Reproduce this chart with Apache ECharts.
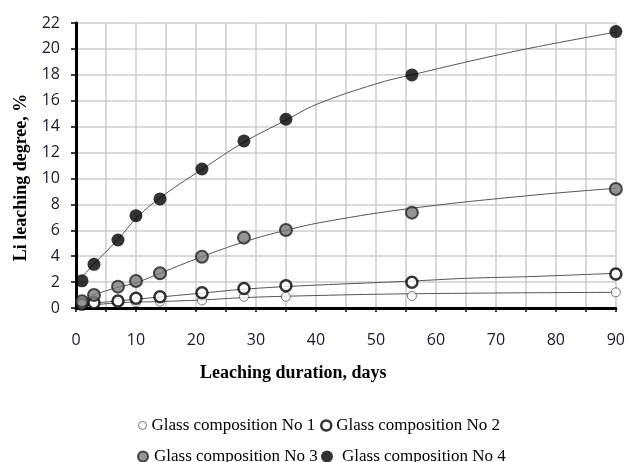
<!DOCTYPE html>
<html>
<head>
<meta charset="utf-8">
<script src="https://cdn.jsdelivr.net/npm/echarts@6/dist/echarts.min.js"></script>
<style>html,body{margin:0;padding:0;background:#fff}#c{width:628px;height:462px}</style>
</head>
<body>
<div id="c"></div>
<script>
// measured points
var days = [1, 3, 7, 10, 14, 21, 28, 35, 56, 90];
var glass1 = [0.23, 0.3, 0.4, 0.45, 0.49, 0.58, 0.87, 0.87, 0.93, 1.21];
var glass2 = [0.3, 0.4, 0.54, 0.75, 0.87, 1.18, 1.5, 1.72, 1.98, 2.63];
var glass3 = [0.52, 1.0, 1.65, 2.08, 2.68, 3.96, 5.43, 6.02, 7.36, 9.19];
var glass4 = [2.1, 3.37, 5.25, 7.13, 8.42, 10.73, 12.9, 14.57, 17.99, 21.34];
// trend lines
var trend1Days = [1, 7, 14, 21, 28, 37, 56, 90];
var trend1 = [0.15, 0.4, 0.5, 0.62, 0.8, 0.93, 1.1, 1.21];
var trend2Days = [1, 7, 14, 21, 28, 37, 56, 65, 76, 90];
var trend2 = [0.3, 0.55, 0.85, 1.15, 1.45, 1.7, 2.08, 2.29, 2.43, 2.68];
var trend3Days = [1, 3, 7, 10, 14, 21, 28, 35, 42, 56, 76, 90];
var trend3 = [0.5, 1.0, 1.6, 1.95, 2.68, 3.96, 5.1, 6.0, 6.7, 7.7, 8.7, 9.24];
var trend4Days = [1, 3, 7, 10, 14, 21, 28, 35, 40, 50, 56, 73, 90];
var trend4 = [2.4, 3.4, 5.3, 6.9, 8.5, 10.7, 12.8, 14.5, 15.7, 17.3, 18.0, 19.8, 21.3];

var seriesNames = ['Glass composition No 1', 'Glass composition No 2', 'Glass composition No 3', 'Glass composition No 4'];
var xTitle = 'Leaching duration, days';
var yTitle = 'Li leaching degree, %';

function pairs(xs, v) { return xs.map(function (d, i) { return [d, v[i]]; }); }

var styles = [
  { size: 9, item: { color: '#fff', borderColor: '#555', borderWidth: 1 } },
  { size: 11, item: { color: '#fff', borderColor: '#000', borderWidth: 2.5 } },
  { size: 12, item: { color: '#7a7a7a', borderColor: '#222', borderWidth: 2 } },
  { size: 13, item: { color: '#000', borderColor: '#000', borderWidth: 0 } }
];
var values = [glass1, glass2, glass3, glass4];
var trends = [[trend1Days, trend1], [trend2Days, trend2], [trend3Days, trend3], [trend4Days, trend4]];

var series = [];
trends.forEach(function (t, i) {
  series.push({
    name: 'trend ' + (i + 1),
    type: 'line',
    data: pairs(t[0], t[1]),
    smooth: 0.4,
    symbol: 'none',
    lineStyle: { color: '#555', width: 1 },
    z: 1,
    silent: true
  });
});
values.forEach(function (v, i) {
  series.push({
    name: seriesNames[i],
    type: 'scatter',
    data: pairs(days, v),
    symbol: 'circle',
    symbolSize: styles[i].size,
    itemStyle: styles[i].item,
    z: 2 + i,
    silent: true
  });
});

var legendFont = { fontFamily: 'Liberation Serif', fontSize: 17, color: '#000' };
function mkLegend(i, left, top, w, pad) {
  return {
    data: [{ name: seriesNames[i], icon: 'circle', itemStyle: styles[i].item }],
    left: left, top: top, padding: 0,
    itemWidth: w, itemHeight: w,
    selectedMode: false,
    textStyle: Object.assign({ padding: [0, 0, 0, pad] }, legendFont)
  };
}

var chart = echarts.init(document.getElementById('c'), null, { renderer: 'canvas' });
chart.setOption({
  animation: false,
  backgroundColor: '#fff',
  grid: { left: 76, right: 10, top: 23, bottom: 154 },
  legend: [
    mkLegend(0, 138, 417, 8, 0),
    mkLegend(1, 320, 417, 10, 0),
    mkLegend(2, 137, 448, 10, 1),
    mkLegend(3, 321, 448, 12, 4)
  ],
  xAxis: {
    type: 'value', min: 0, max: 90, interval: 5,
    axisLine: { lineStyle: { color: '#000', width: 3 } },
    axisTick: { show: true, length: 4, lineStyle: { color: '#000', width: 1.5 } },
    axisLabel: {
      margin: 24, fontFamily: 'Open Sans', fontSize: 16, color: '#1a1a2a',
      formatter: function (v) { return v % 10 === 0 ? String(v) : ''; }
    },
    splitLine: { show: true, lineStyle: { color: '#cccccc', width: 1.5 } }
  },
  yAxis: {
    type: 'value', min: 0, max: 22, interval: 2,
    axisLine: { show: true, lineStyle: { color: '#000', width: 3 } },
    axisTick: { show: true, length: 5, lineStyle: { color: '#000', width: 1.5 } },
    axisLabel: { margin: 16, fontFamily: 'Open Sans', fontSize: 16, color: '#1a1a2a' },
    splitLine: { show: true, lineStyle: { color: '#cccccc', width: 1.5 } }
  },
  graphic: [
    {
      type: 'text', left: 200, top: 364,
      style: { text: xTitle, fontFamily: 'Liberation Serif', fontSize: 18, fontWeight: 'bold', fill: '#000' }
    },
    {
      type: 'text', x: 21, y: 177.5, rotation: Math.PI / 2,
      style: { text: yTitle, fontFamily: 'Liberation Serif', fontSize: 18, fontWeight: 'bold', fill: '#000', align: 'center', verticalAlign: 'middle' }
    }
  ],
  series: series
});
</script>
</body>
</html>
